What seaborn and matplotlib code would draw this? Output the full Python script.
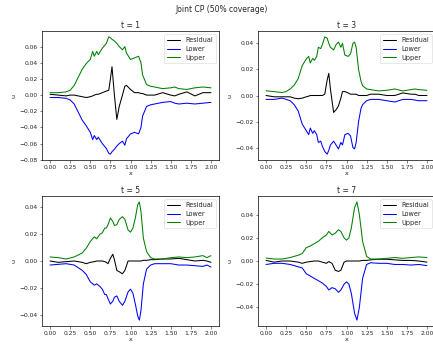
import numpy as np
import pandas as pd
import seaborn as sns
import matplotlib
matplotlib.use("Agg")
import matplotlib.pyplot as plt

titles = ["t = 1", "t = 3", "t = 5", "t = 7"]
suptitle = "Joint CP (50% coverage)"

x_t1 = [0, 0.1, 0.2, 0.25, 0.3, 0.35, 0.4, 0.45, 0.5, 0.53, 0.55, 0.58, 0.6, 0.65, 0.7,
        0.73, 0.75, 0.77, 0.8, 0.83, 0.86, 0.9, 0.93, 0.95, 1.0, 1.05, 1.1, 1.13, 1.15,
        1.2, 1.25, 1.3, 1.4, 1.5, 1.55, 1.6, 1.7, 1.8, 1.9, 2.0]
upper_t1 = [0.003, 0.003, 0.004, 0.006, 0.012, 0.022, 0.032, 0.039, 0.044, 0.054, 0.048,
            0.054, 0.050, 0.058, 0.064, 0.072, 0.071, 0.069, 0.067, 0.064, 0.060, 0.056,
            0.060, 0.052, 0.044, 0.046, 0.048, 0.040, 0.025, 0.013, 0.011, 0.010, 0.008,
            0.009, 0.010, 0.008, 0.007, 0.009, 0.010, 0.009]
lower_t1 = [-0.003, -0.003, -0.004, -0.006, -0.011, -0.021, -0.031, -0.038, -0.046, -0.055,
            -0.050, -0.055, -0.052, -0.060, -0.066, -0.072, -0.073, -0.070, -0.067, -0.063,
            -0.060, -0.057, -0.062, -0.054, -0.048, -0.046, -0.048, -0.040, -0.026, -0.014,
            -0.012, -0.011, -0.009, -0.008, -0.010, -0.011, -0.010, -0.011, -0.010, -0.009]
resid_t1 = [0.001, 0.0, -0.001, 0.0, 0.0, -0.001, -0.002, -0.003, -0.002, -0.001, 0.0,
            0.001, 0.001, 0.003, 0.005, 0.006, 0.020, 0.035, 0.0, -0.030, -0.014, 0.0,
            0.011, 0.012, 0.007, 0.003, 0.003, 0.002, 0.002, 0.0, 0.0, 0.0, 0.003, 0.0,
            -0.001, 0.001, 0.004, -0.001, 0.003, 0.003]

x_t3 = [0, 0.1, 0.2, 0.25, 0.3, 0.35, 0.4, 0.45, 0.5, 0.53, 0.55, 0.58, 0.6, 0.63, 0.65,
        0.68, 0.7, 0.73, 0.76, 0.78, 0.8, 0.84, 0.87, 0.9, 0.93, 0.95, 0.98, 1.02, 1.05,
        1.08, 1.1, 1.12, 1.15, 1.18, 1.2, 1.25, 1.3, 1.4, 1.5, 1.6, 1.7, 1.8, 1.85, 1.9, 2.0]
upper_t3 = [0.0036, 0.003, 0.0023, 0.003, 0.005, 0.008, 0.013, 0.023, 0.028, 0.030, 0.025,
            0.0285, 0.027, 0.030, 0.037, 0.036, 0.039, 0.045, 0.044, 0.040, 0.037, 0.035,
            0.039, 0.041, 0.037, 0.040, 0.031, 0.030, 0.032, 0.040, 0.041, 0.037, 0.020,
            0.011, 0.0075, 0.005, 0.0045, 0.0035, 0.004, 0.005, 0.0035, 0.0045, 0.005,
            0.0045, 0.004]
lower_t3 = [-0.003, -0.003, -0.002, -0.003, -0.004, -0.007, -0.012, -0.022, -0.027, -0.030,
            -0.025, -0.029, -0.027, -0.030, -0.036, -0.035, -0.039, -0.043, -0.045, -0.042,
            -0.038, -0.035, -0.038, -0.041, -0.036, -0.038, -0.030, -0.029, -0.031, -0.040,
            -0.041, -0.036, -0.020, -0.010, -0.007, -0.004, -0.003, -0.003, -0.004, -0.005,
            -0.003, -0.003, -0.0035, -0.004, -0.004]
resid_t3 = [0.0, -0.001, -0.001, -0.001, -0.001, -0.002, -0.0025, -0.002, -0.001, -0.0005,
            0.0, 0.0, 0.0, 0.0, 0.0, 0.0, 0.0, 0.001, 0.012, 0.017, 0.005, -0.013, -0.011,
            -0.008, -0.002, 0.003, 0.003, 0.002, 0.001, 0.001, 0.001, 0.001, 0.0, 0.0, 0.0,
            0.0, 0.001, 0.001, 0.0, 0.0, 0.002, 0.001, 0.001, 0.0, 0.0]

x_t5 = [0, 0.1, 0.2, 0.3, 0.4, 0.45, 0.5, 0.55, 0.58, 0.62, 0.65, 0.68, 0.7, 0.72, 0.75,
        0.78, 0.8, 0.83, 0.86, 0.9, 0.93, 0.97, 1.0, 1.03, 1.06, 1.09, 1.11, 1.13, 1.16,
        1.2, 1.25, 1.3, 1.4, 1.5, 1.6, 1.7, 1.8, 1.9, 1.95, 2.0]
upper_t5 = [0.003, 0.0025, 0.0015, 0.003, 0.006, 0.0095, 0.0145, 0.018, 0.0165, 0.020,
            0.021, 0.0245, 0.0245, 0.027, 0.032, 0.0295, 0.0265, 0.027, 0.031, 0.033,
            0.031, 0.023, 0.0215, 0.0245, 0.032, 0.042, 0.044, 0.037, 0.017, 0.007,
            0.0025, 0.0015, 0.0015, 0.0025, 0.003, 0.0025, 0.003, 0.004, 0.0025, 0.004]
lower_t5 = [-0.003, -0.0025, -0.002, -0.003, -0.007, -0.010, -0.0155, -0.018, -0.017,
            -0.019, -0.021, -0.025, -0.025, -0.028, -0.032, -0.030, -0.027, -0.026, -0.030,
            -0.033, -0.030, -0.023, -0.021, -0.024, -0.032, -0.041, -0.044, -0.037, -0.017,
            -0.006, -0.003, -0.002, -0.002, -0.002, -0.003, -0.003, -0.0035, -0.004, -0.003,
            -0.0045]
resid_t5 = [0.0, -0.001, -0.0005, 0.0, -0.001, -0.002, -0.001, -0.0005, 0.0, 0.0, 0.0,
            -0.0005, -0.001, -0.002, 0.002, 0.005, 0.001, -0.007, -0.008, -0.0095, -0.007,
            0.0, 0.0, 0.0, 0.0, 0.0, 0.0, 0.0, 0.0005, 0.0005, 0.001, 0.001, 0.0015, 0.0015,
            0.002, 0.001, 0.0, 0.0005, 0.0, -0.001]

x_t7 = [0, 0.1, 0.2, 0.3, 0.4, 0.45, 0.5, 0.55, 0.6, 0.65, 0.7, 0.75, 0.78, 0.82, 0.86,
        0.9, 0.93, 0.97, 1.0, 1.03, 1.06, 1.1, 1.13, 1.16, 1.2, 1.25, 1.3, 1.4, 1.5, 1.6,
        1.7, 1.8, 1.9, 2.0]
upper_t7 = [0.0025, 0.0017, 0.0017, 0.003, 0.005, 0.0065, 0.0115, 0.013, 0.015, 0.017,
            0.020, 0.0225, 0.0255, 0.0225, 0.024, 0.027, 0.0255, 0.020, 0.018, 0.020,
            0.0285, 0.046, 0.051, 0.040, 0.017, 0.004, 0.0017, 0.0017, 0.0023, 0.003,
            0.0023, 0.003, 0.0035, 0.003]
lower_t7 = [-0.003, -0.002, -0.002, -0.003, -0.005, -0.006, -0.011, -0.013, -0.015, -0.017,
            -0.019, -0.022, -0.025, -0.023, -0.024, -0.027, -0.025, -0.020, -0.018, -0.020,
            -0.028, -0.045, -0.051, -0.040, -0.015, -0.003, -0.0015, -0.002, -0.002, -0.003,
            -0.003, -0.0035, -0.003, -0.004]
resid_t7 = [0.0005, -0.001, 0.0, 0.0, -0.001, -0.002, -0.001, -0.0005, 0.0, 0.0, -0.001,
            -0.002, -0.0005, -0.002, -0.008, -0.009, -0.008, -0.001, 0.0, 0.0, 0.0, 0.0,
            0.0, 0.0, 0.0005, 0.0005, 0.001, 0.0015, 0.0015, 0.001, 0.0005, 0.0005, 0.0,
            -0.001]

panels = [
    (x_t1, resid_t1, lower_t1, upper_t1),
    (x_t3, resid_t3, lower_t3, upper_t3),
    (x_t5, resid_t5, lower_t5, upper_t5),
    (x_t7, resid_t7, lower_t7, upper_t7),
]
series_names = ["Residual", "Lower", "Upper"]
series_colors = ["black", "blue", "green"]

sns.set_style("ticks")
plt.rcParams["font.family"] = ["DejaVu Sans"]

W, H = 433, 344
fig = plt.figure(figsize=(W / 100, H / 100), dpi=100)
fig.patch.set_facecolor("white")

# axes rectangles in pixels: left, top, width, height
rects = [(42, 31, 177, 129), (258, 31, 177, 129),
         (42, 196, 177, 130), (258, 196, 177, 130)]

for (xs, r, lo, up), title, (l, t, w, h) in zip(panels, titles, rects):
    ax = fig.add_axes([l / W, 1 - (t + h) / H, w / W, h / H])
    df = pd.DataFrame({"x": xs, "Residual": r, "Lower": lo, "Upper": up})
    for name, col in zip(series_names, series_colors):
        sns.lineplot(data=df, x="x", y=name, ax=ax, color=col, label=name,
                     linewidth=0.75, estimator=None, sort=False)
    ax.set_title(title, fontsize=5.5, pad=2.5)
    ax.set_xlabel("x", fontsize=4.6, labelpad=1)
    ax.set_ylabel("u", fontsize=4.6, labelpad=2)
    ax.set_xticks([0, 0.25, 0.5, 0.75, 1.0, 1.25, 1.5, 1.75, 2.0])
    ax.tick_params(labelsize=4.3, length=1.8, width=0.4, pad=1.5)
    for s in ax.spines.values():
        s.set_linewidth(0.5)
        s.set_color("black")
    leg = ax.legend(loc="upper right", fontsize=4.7, handlelength=2.0,
                    borderpad=0.4, labelspacing=0.45, framealpha=0.8)
    leg.get_frame().set_linewidth(0.4)

fig.text(222 / W, 1 - 10 / H, suptitle, ha="center", va="center", fontsize=5.5)

fig.savefig("out.png", dpi=100)
